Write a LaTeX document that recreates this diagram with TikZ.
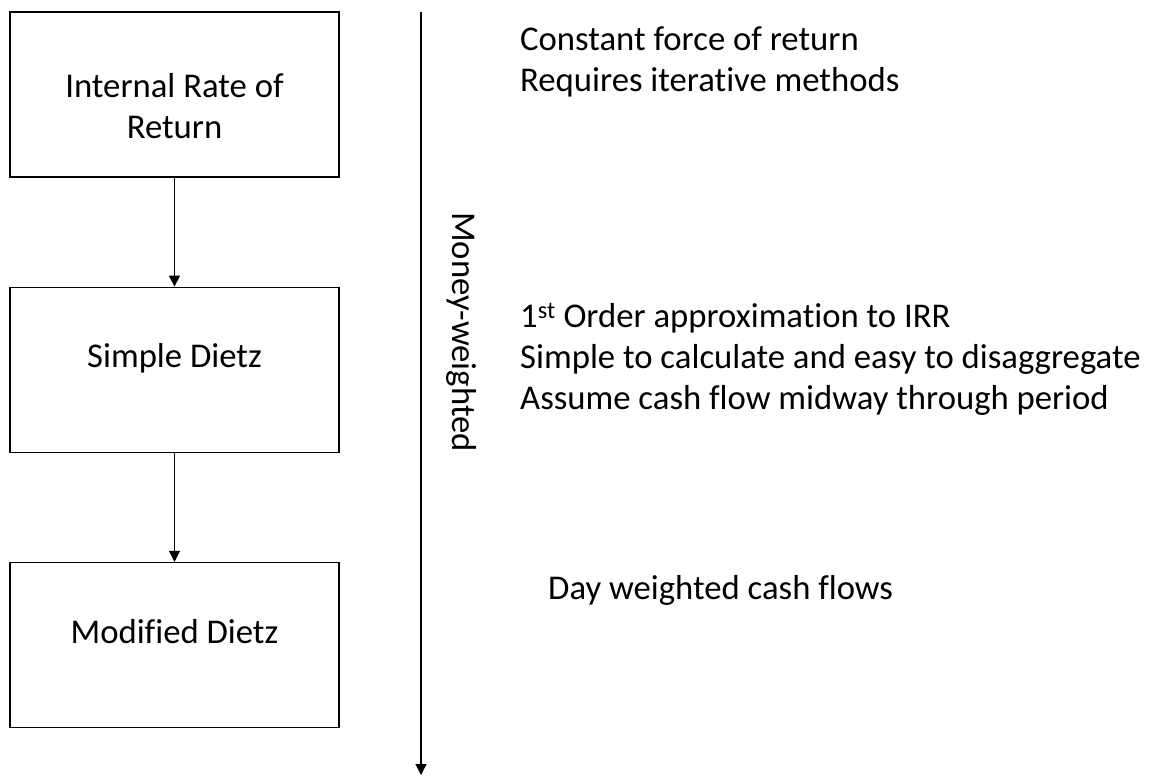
\documentclass[tikz,border=0pt]{standalone}
\usepackage{fontspec}
\setmainfont{Carlito}[Ligatures=NoCommon]
\usetikzlibrary{positioning, arrows.meta}

\begin{document}
\begin{tikzpicture}[x=1pt, y=-1pt, node distance=109pt,
    font=\fontsize{34.7}{41}\selectfont,
    stepbox/.style={draw, line width=1.2pt, minimum width=329pt, minimum height=165pt, inner sep=0pt},
    flow/.style={-{Triangle[width=11pt,length=11pt]}, line width=1.1pt},
    note/.style={anchor=west, align=left, inner sep=0pt}]
  \useasboundingbox (0,0) rectangle (1156,776);

  \node[stepbox, label={[yshift=-12pt, align=center]center:Internal Rate of\\Return}] (irr) at (174.5,94.5) {};
  \node[stepbox, label={[yshift=11pt]center:Simple Dietz}, below=of irr] (sd) {};
  \node[stepbox, label={[yshift=13pt]center:Modified Dietz}, below=of sd] (md) {};

  \draw[flow] (irr) -- (sd);
  \draw[flow] (sd) -- (md);

  % money-weighted axis
  \coordinate (axtop) at (421,12);
  \coordinate (axbot) at (421,775);
  \draw[flow] (axtop) -- (axbot);
  \node[rotate=-90] (mw) at (462,332) {Money-weighted};

  \node[note] (irrnote) at (520,62) {Constant force of return\\Requires iterative methods};
  \node[note] (sdnote) at (520,359) {1\textsuperscript{st} Order approximation to IRR\\Simple to calculate and easy to disaggregate\\Assume cash flow midway through period};
  \node[note] (mdnote) at (548,590) {Day weighted cash flows};
\end{tikzpicture}
\end{document}
